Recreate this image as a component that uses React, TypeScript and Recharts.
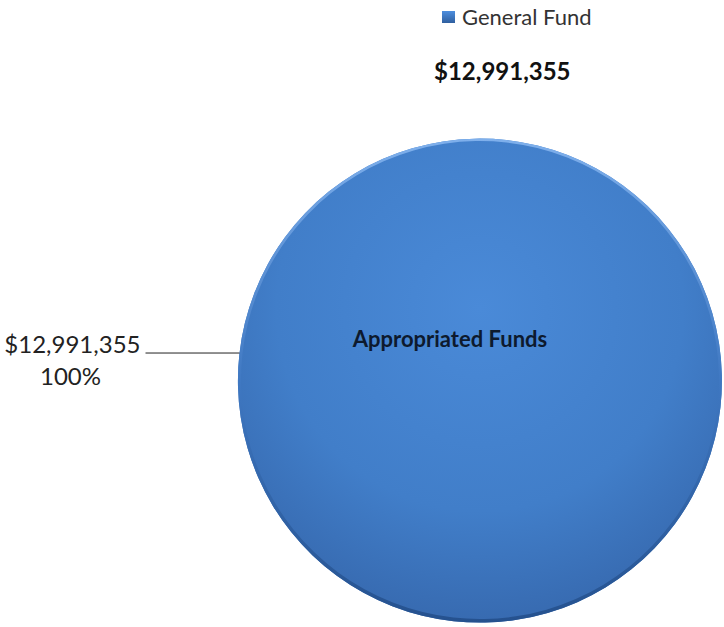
import React from 'react';
import { PieChart, Pie, Cell, Legend } from 'recharts';

const categories = ['General Fund'];
const values = [12991355];
const percents = ['100%'];
const innerLabels = ['Appropriated Funds'];
const totalLabel = '$12,991,355';

const data = categories.map((name, i) => ({ name, value: values[i], pct: percents[i], inner: innerLabels[i] }));

const fmt = (v: number) => '$' + v.toLocaleString('en-US');

const FONT = 'Lato, "Open Sans", sans-serif';
const RAD = Math.PI / 180;

const renderLabel = (props: any) => {
  const { cx, cy, outerRadius, midAngle, payload, value } = props;
  const ex = cx + outerRadius * Math.cos(midAngle * RAD);
  const ey = cy - outerRadius * Math.sin(midAngle * RAD);
  const lx = ex - 94;
  return (
    <g>
      <line x1={ex} y1={ey} x2={lx} y2={ey} stroke="#222" strokeWidth={1} />
      <text x={lx - 5} y={ey} textAnchor="end" fontFamily={FONT} fontSize={24} fill="#222">{fmt(value)}</text>
      <text x={lx - 75} y={ey + 32} textAnchor="middle" fontFamily={FONT} fontSize={24} fill="#222">{payload.pct}</text>
      <text x={cx - 30} y={cy - 33} textAnchor="middle" fontFamily={FONT} fontSize={22} fontWeight="bold" fill="#0d1a2e">{payload.inner}</text>
    </g>
  );
};

const LegendContent = () => (
  <div style={{ fontFamily: FONT }}>
    {data.map((d) => (
      <div key={d.name} style={{ display: 'flex', alignItems: 'center', fontSize: 22, color: '#333', lineHeight: '26px' }}>
        <span style={{ width: 13, height: 12, background: 'linear-gradient(#4d8ede,#2f5f9f)', marginRight: 7, display: 'inline-block' }} />
        {d.name}
      </div>
    ))}
    <div style={{ fontWeight: 'bold', fontSize: 24, color: '#111', marginTop: 26, marginLeft: -8, lineHeight: '30px' }}>{totalLabel}</div>
  </div>
);

export default function App() {
  return (
    <div style={{ position: 'absolute', left: 0, top: 0, width: 724, height: 627, background: '#fff' }}>
      <PieChart width={724} height={627} margin={{ top: 0, right: 0, bottom: 0, left: 0 }}>
        <defs>
          <radialGradient id="pieGrad" cx="50%" cy="35%" r="70%">
            <stop offset="0%" stopColor="#4a8ad8" />
            <stop offset="60%" stopColor="#417ec9" />
            <stop offset="100%" stopColor="#3566ab" />
          </radialGradient>
          <linearGradient id="rimGrad" x1="0" y1="0" x2="0" y2="1">
            <stop offset="0%" stopColor="#7fb0ec" />
            <stop offset="50%" stopColor="#3f78c2" />
            <stop offset="100%" stopColor="#25518e" />
          </linearGradient>
        </defs>
        <Pie
          data={data}
          dataKey="value"
          nameKey="name"
          cx={480}
          cy={380}
          outerRadius={242}
          startAngle={-6.4}
          endAngle={353.6}
          stroke="none"
          label={renderLabel}
          labelLine={false}
          isAnimationActive={false}
        >
          {data.map((d) => (
            <Cell key={d.name} fill="url(#pieGrad)" stroke="none" />
          ))}
        </Pie>
        <Pie
          data={data}
          dataKey="value"
          nameKey="name"
          cx={480}
          cy={380}
          innerRadius={239}
          outerRadius={242}
          startAngle={-6.4}
          endAngle={353.6}
          stroke="none"
          legendType="none"
          isAnimationActive={false}
        >
          {data.map((d) => (
            <Cell key={d.name} fill="url(#rimGrad)" stroke="none" />
          ))}
        </Pie>
        <Legend content={<LegendContent />} wrapperStyle={{ position: 'absolute', left: 442, top: 4, width: 220 }} />
      </PieChart>
    </div>
  );
}
